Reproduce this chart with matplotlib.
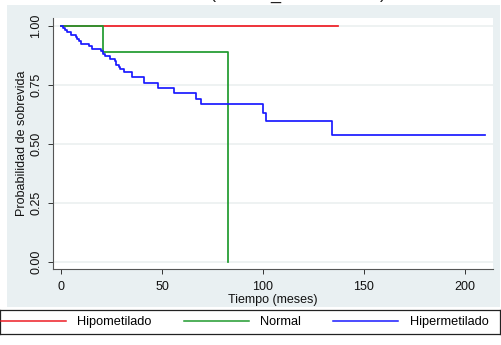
import matplotlib
matplotlib.use("Agg")
import matplotlib.pyplot as plt
from matplotlib.lines import Line2D

plt.rcParams['font.family'] = ['Liberation Sans', 'DejaVu Sans']

# Kaplan-Meier estimates per methylation group
hipo_t = [0, 137]
hipo_s = [1.0, 1.0]

normal_t = [0, 21, 82.8]
normal_s = [1.0, 0.889, 0.0]

hiper_t = [0, 1, 2, 3, 5, 7.5, 8.1, 8.7, 9.7, 13.9, 15.5, 19.8, 20.8, 21.6,
           24.4, 26.5, 27.4, 28.5, 29.2, 31.2, 35.0, 41.0, 48.0, 55.8, 67.0,
           69.4, 100.0, 101.5, 134.0, 210.0]
hiper_s = [1.0, 0.991, 0.982, 0.975, 0.963, 0.953, 0.943, 0.935, 0.925, 0.915,
           0.904, 0.892, 0.882, 0.873, 0.861, 0.850, 0.836, 0.826, 0.819, 0.805,
           0.784, 0.760, 0.739, 0.716, 0.692, 0.670, 0.632, 0.596, 0.538, 0.538]

group_names = ["Hipometilado", "Normal", "Hipermetilado"]
group_colors = ["#ee1c24", "#1f9a2e", "#1a1aff"]

x_ticks = [0, 50, 100, 150, 200]
y_ticks = [0.00, 0.25, 0.50, 0.75, 1.00]

W, H = 501, 345
fig = plt.figure(figsize=(W / 100, H / 100), dpi=100)
fig.patch.set_facecolor("white")

def fx(px):
    return px / W

def fy(py):
    return 1 - py / H

# graph region background
bg = fig.add_axes([fx(7), fy(307), fx(500) - fx(7), fy(5) - fy(307)], zorder=-5)
bg.set_facecolor("#e9f0f2")
bg.set_xticks([])
bg.set_yticks([])
for sp in bg.spines.values():
    sp.set_visible(False)

# clipped title descenders at the very top
for ch, px in [("(", 213), ("_", 275), (")", 383)]:
    fig.text(fx(px), fy(-1.5), ch, fontsize=13, ha="center", va="baseline",
             color="#222222")

ax = fig.add_axes([fx(53), fy(269), fx(493) - fx(53), fy(18) - fy(269)])
ax.set_facecolor("white")
ax.set_xlim(-4, 213.9)
ax.set_ylim(-0.031, 1.034)

for t, s, c in zip([hipo_t, normal_t, hiper_t], [hipo_s, normal_s, hiper_s],
                   group_colors):
    ax.step(t, s, where="post", color=c, lw=1.25, zorder=3)

ax.set_xticks(x_ticks)
ax.set_xticklabels([str(v) for v in x_ticks])
ax.set_yticks(y_ticks)
ax.set_yticklabels([f"{v:.2f}" for v in y_ticks], rotation=90, va="center")
ax.tick_params(axis="both", labelsize=9, colors="#333333", labelcolor="#111111",
               length=3.6, width=0.7)
ax.tick_params(axis="y", pad=4)
ax.tick_params(axis="x", pad=5)
ax.grid(axis="y", color="#eef2f2", lw=1.4, zorder=0)
ax.set_axisbelow(True)
for side in ("top", "right"):
    ax.spines[side].set_visible(False)
for side in ("left", "bottom"):
    ax.spines[side].set_color("#555555")
    ax.spines[side].set_linewidth(0.8)

ax.set_xlabel("Tiempo (meses)", fontsize=9, color="#111111", labelpad=1)
ax.set_ylabel("Probabilidad de sobrevida", fontsize=9, color="#111111", labelpad=2)

# legend box along the bottom
lax = fig.add_axes([fx(0), fy(334), fx(500) - fx(0), fy(310) - fy(334)])
lax.set_xlim(0, 500)
lax.set_ylim(0, 1)
lax.set_xticks([])
lax.set_yticks([])
lax.patch.set_alpha(0)
for sp in lax.spines.values():
    sp.set_color("#222222")
    sp.set_linewidth(0.9)
handles = [Line2D([0], [0], color=c, lw=1.1) for c in group_colors]
leg = lax.legend(handles, group_names, loc="center", ncol=3, frameon=False,
                 fontsize=9.2, handlelength=5.1, handletextpad=0.9,
                 columnspacing=2.5, borderaxespad=0, bbox_to_anchor=(0.489, 0.5))

fig.savefig("out.png", dpi=100)
